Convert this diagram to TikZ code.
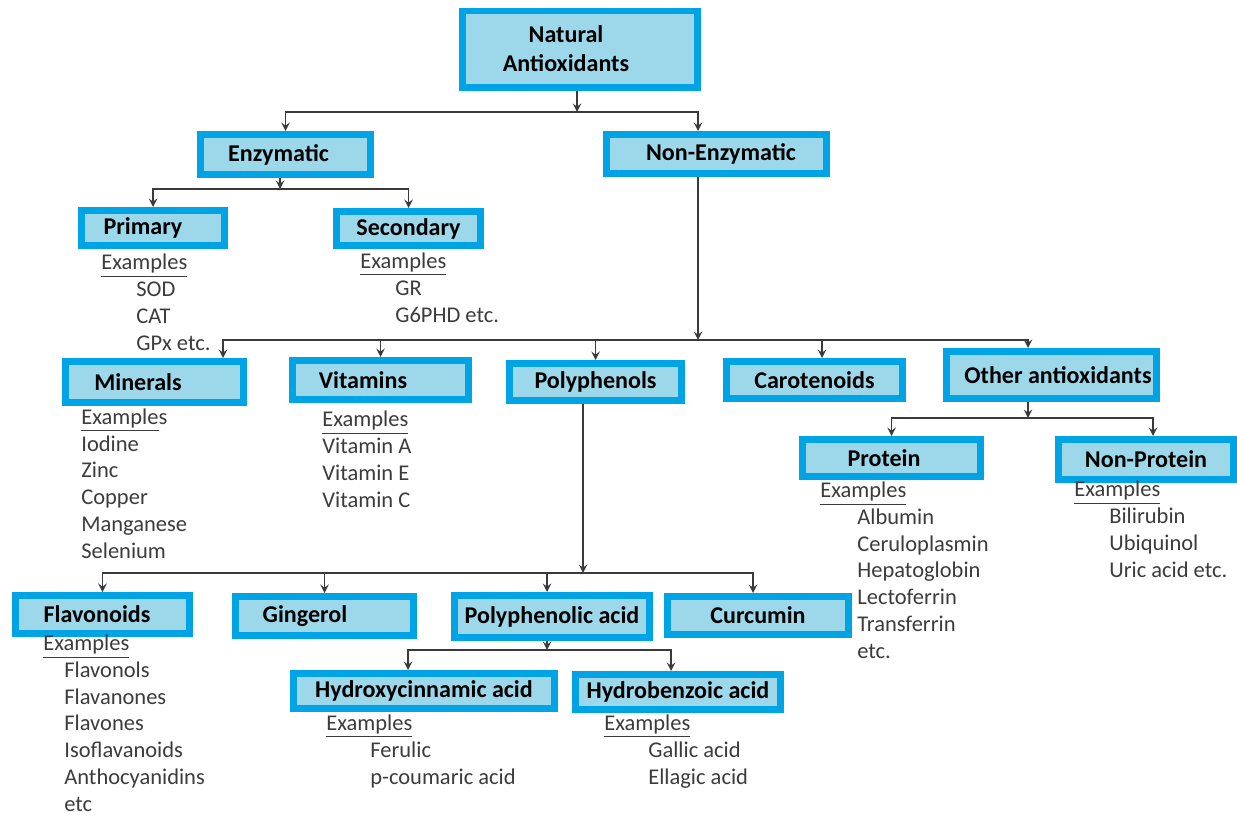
\documentclass[tikz,border=0pt]{standalone}
\usepackage{fontspec}
\setmainfont{Carlito}
\usepackage{pgf,tikz}
\usetikzlibrary{arrows}
\definecolor{frameblue}{HTML}{00A3E3}
\definecolor{fillblue}{HTML}{9DD8EA}
\definecolor{linegray}{HTML}{3A3A3A}
\definecolor{textgray}{HTML}{3C3C3C}

\begin{document}
\begin{tikzpicture}[x=0.02cm,y=-0.02cm,
  box/.style={draw=frameblue,fill=fillblue,line width=0.14cm,inner sep=0pt,align=center,
    font=\fontsize{13.7}{16.5}\selectfont\bfseries},
  wh/.style 2 args={minimum width=#1*0.02cm,minimum height=#2*0.02cm},
  link/.style={->,>=stealth,draw=linegray,line width=1.1pt},
  exlist/.style={anchor=base west,align=left,inner sep=0pt,text=textgray,
    font=\fontsize{12.8}{15.2}\selectfont}]
\fill[white] (0,0) rectangle (1237,818);
\useasboundingbox (0,0) rectangle (1237,818);

\node[box,wh={235}{76}] (nat) at (580,49) {\hspace*{-0.56cm}Natural\\\hspace*{-0.56cm}Antioxidants};
\node[box,wh={170}{40}] (enz) at (285.5,154.5) {\hspace*{-0.28cm}Enzymatic};
\node[box,wh={220}{39}] (nonenz) at (716.5,154) {\hspace*{0.18cm}Non-Enzymatic};
\node[box,wh={143}{35}] (prim) at (153,228) {\hspace*{-0.4cm}Primary};
\node[box,wh={144}{34}] (sec) at (408.5,228.5) {Secondary};
\node[box,wh={178}{41}] (min) at (154.5,382) {\hspace*{-0.66cm}Minerals};
\node[box,wh={176}{39}] (vit) at (380.5,380) {\hspace*{-0.7cm}Vitamins};
\node[box,wh={172}{37}] (poly) at (595.5,382) {Polyphenols};
\node[box,wh={176}{37}] (car) at (814.5,380) {Carotenoids};
\node[box,wh={210}{47}] (other) at (1051.5,375) {\hspace*{0.26cm}Other antioxidants};
\node[box,wh={178}{37}] (prot) at (891.5,458) {\hspace*{-0.3cm}Protein};
\node[box,wh={175}{40}] (nonprot) at (1146,459.5) {Non-Protein};
\node[box,wh={174}{38}] (flav) at (102.5,614.5) {\hspace*{-0.22cm}Flavonoids};
\node[box,wh={178}{39}] (ging) at (324.5,616) {\hspace*{-0.78cm}Gingerol};
\node[box,wh={195}{42}] (pacid) at (552,616.5) {Polyphenolic acid};
\node[box,wh={181}{38}] (curc) at (758,615.5) {Curcumin};
\node[box,wh={261}{35}] (hcin) at (424,691) {Hydroxycinnamic acid};
\node[box,wh={205}{35}] (hben) at (678,692) {Hydrobenzoic acid};

\coordinate (j1) at (577,112);
\coordinate (j2) at (698,340);
\coordinate (j3) at (280,189);
\coordinate (j4) at (1028,418);
\coordinate (j5) at (583,573);
\coordinate (j6) at (547,650);

\draw[link] (nat.south -| j1) -- (j1);
\draw[link] (j1) -| (enz.north);
\draw[link] (j1) -| (nonenz.north -| j2);
\draw[link] (enz.south -| j3) -- (j3);
\draw[link] (j3) -| (prim.north);
\draw[link] (j3) -| (sec.north);
\draw[link] (nonenz.south -| j2) -- (j2);
\draw[link] (j2) -| (min.north -| 223,0);
\draw[link] (j2) -| (vit.north);
\draw[link] (j2) -| (poly.north);
\draw[link] (j2) -| (car.north -| 822,0);
\draw[link] (j2) -| (other.north -| j4);
\draw[link] (other.south -| j4) -- (j4);
\draw[link] (j4) -| (prot.north);
\draw[link] (j4) -| (nonprot.north -| 1153,0);
\draw[link] (poly.south -| j5) -- (j5);
\draw[link] (j5) -| (flav.north);
\draw[link] (j5) -| (ging.north);
\draw[link] (j5) -| (pacid.north -| j6);
\draw[link] (j5) -| (curc.north -| 753,0);
\draw[link] (pacid.south -| j6) -- (j6);
\draw[link] (j6) -| (hcin.north -| 408,0);
\draw[link] (j6) -| (hben.north -| 671,0);

\node[exlist] (primex) at (101,350) {\underline{Examples}\\\hspace*{0.7cm}SOD\\\hspace*{0.7cm}CAT\\\hspace*{0.7cm}GPx etc.};
\node[exlist] (secex) at (360,322) {\underline{Examples}\\\hspace*{0.7cm}GR\\\hspace*{0.7cm}G6PHD etc.};
\node[exlist] (minex) at (81,558) {\underline{Example}s\\Iodine\\Zinc\\Copper\\Manganese\\Selenium};
\node[exlist] (vitex) at (322,507) {\underline{Examples}\\Vitamin A\\Vitamin E\\Vitamin C};
\node[exlist] (flavex) at (43,811) {\underline{Examples}\\\hspace*{0.42cm}Flavonols\\\hspace*{0.42cm}Flavanones\\\hspace*{0.42cm}Flavones\\\hspace*{0.42cm}Isoflavanoids\\\hspace*{0.42cm}Anthocyanidins\\\hspace*{0.42cm}etc};
\node[exlist] (hcinex) at (326,784) {\underline{Examples}\\\hspace*{0.88cm}Ferulic\\\hspace*{0.88cm}p-coumaric acid};
\node[exlist] (hbenex) at (604,784) {\underline{Examples}\\\hspace*{0.88cm}Gallic acid\\\hspace*{0.88cm}Ellagic acid};
\node[exlist] (protex) at (820,658) {\underline{Examples}\\\hspace*{0.74cm}Albumin\\\hspace*{0.74cm}Ceruloplasmin\\\hspace*{0.74cm}Hepatoglobin\\\hspace*{0.74cm}Lectoferrin\\\hspace*{0.74cm}Transferrin\\\hspace*{0.74cm}etc.};
\node[exlist] (nonprotex) at (1074,577) {\underline{Examples}\\\hspace*{0.7cm}Bilirubin\\\hspace*{0.7cm}Ubiquinol\\\hspace*{0.7cm}Uric acid etc.};
\end{tikzpicture}
\end{document}
